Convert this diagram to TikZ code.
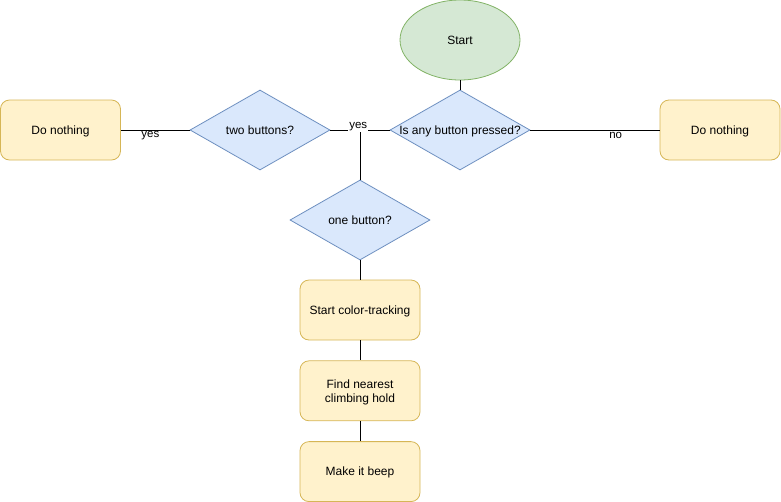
\documentclass[tikz,border=0pt]{standalone}
\usepackage{fontspec}
\setmainfont{Liberation Sans}
\usepackage{xcolor}
\usetikzlibrary{positioning, shapes.geometric}

\definecolor{startfill}{HTML}{D5E8D4}
\definecolor{startline}{HTML}{82B366}
\definecolor{askfill}{HTML}{DAE8FC}
\definecolor{askline}{HTML}{6C8EBF}
\definecolor{stepfill}{HTML}{FFF2CC}
\definecolor{stepline}{HTML}{D6B656}

\begin{document}
\begin{tikzpicture}[x=1pt, y=-1pt, line width=0.8pt,
    every node/.style={font=\fontsize{12}{14}\selectfont},
    startnode/.style={ellipse, draw=startline, fill=startfill, minimum width=120pt, minimum height=80pt, inner sep=0pt, text depth=0pt},
    decision/.style={diamond, draw=askline, fill=askfill, minimum width=140pt, minimum height=80pt, inner sep=0pt, aspect=1.75, text depth=0pt},
    stepbox/.style={rectangle, rounded corners=9pt, draw=stepline, fill=stepfill, minimum width=120pt, minimum height=60pt, align=center, text depth=0pt},
    lbl/.style={fill=white, inner sep=1pt, font=\fontsize{11.5}{13}\selectfont}]
            \useasboundingbox (0,0) rectangle (781,501);

            % Top row
            \node[startnode] (start) at (460,40) {Start};
            \node[decision] (anypress) at (460,130) {Is any button pressed?};
            \node[decision] (twobtn) at (260,130) {two buttons?};
            \node[stepbox] (idleL) at (60.5,130) {Do nothing};
            \node[stepbox] (idleR) at (720,130) {Do nothing};

            % Middle column
            \node[decision] (onebtn) at (360,220) {one button?};
            \node[stepbox] (track) at (360,310) {Start color-tracking};
            \node[stepbox, below=20pt of track] (findhold) {Find nearest\\climbing hold};
            \node[stepbox, below=20pt of findhold] (beep) {Make it beep};

            % Connectors
            \draw (start) -- (anypress);
            \draw (anypress.west -| onebtn) -- (onebtn);
            \draw (anypress) -- node[lbl, pos=0.53, yshift=3pt] {yes} (twobtn);
            \draw (anypress) -- node[lbl, pos=0.66, yshift=-5pt] {no} (idleR);
            \draw (twobtn) -- node[lbl, pos=0.57, yshift=-6pt] {yes} (idleL);
            \draw (onebtn) -- (track);
            \draw (track) -- (findhold);
            \draw (findhold) -- (beep);
        \end{tikzpicture}
\end{document}
